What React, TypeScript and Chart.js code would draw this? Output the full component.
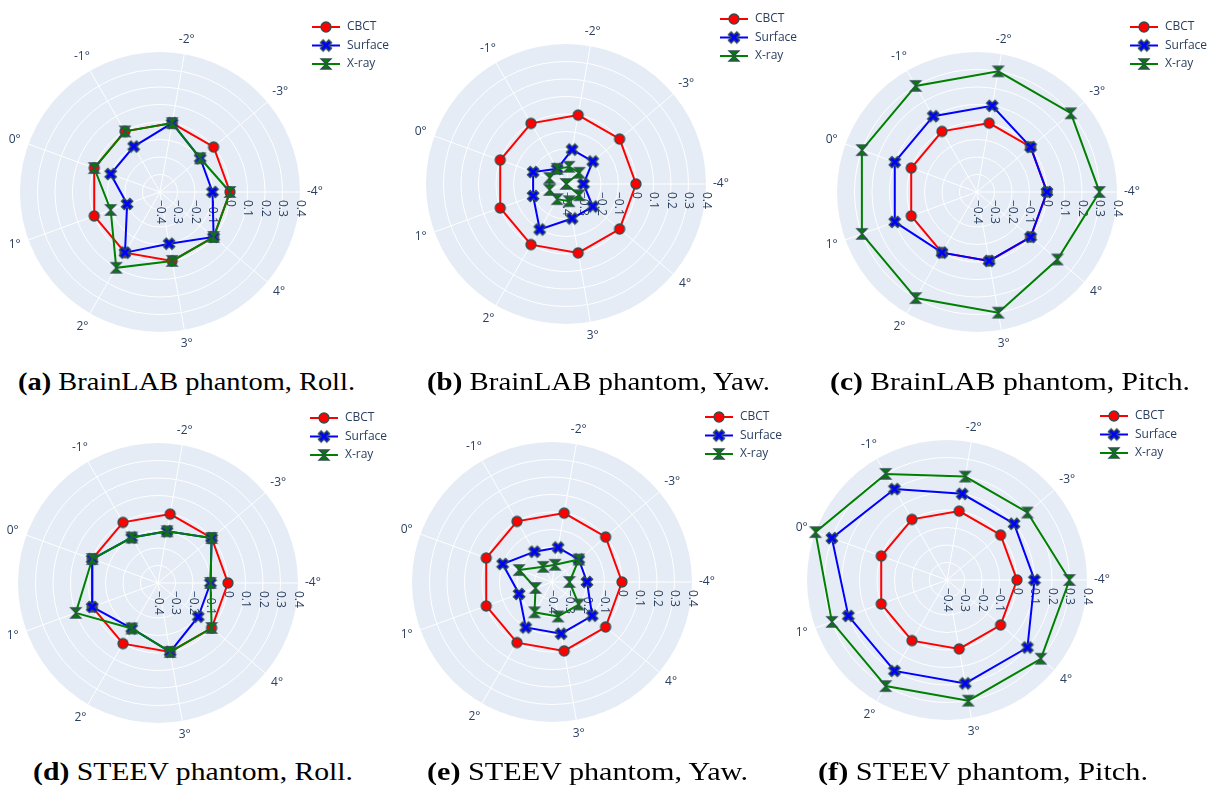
import React, { useEffect, useRef } from 'react';
import { Chart, registerables } from 'chart.js';

Chart.register(...registerables);

// ---------------- data ----------------
const categories = ['-4°', '-3°', '-2°', '-1°', '0°', '1°', '2°', '3°', '4°'];
const radialTicks = [-0.4, -0.3, -0.2, -0.1, 0, 0.1, 0.2, 0.3, 0.4];
const radialTickLabels = ['−0.4', '−0.3', '−0.2', '−0.1', '0', '0.1', '0.2', '0.3', '0.4'];
const seriesNames = ['CBCT', 'Surface', 'X-ray'];

// (a) BrainLAB phantom, Roll
const brainlabRollCBCT = [0, 0, 0, 0, 0, 0, 0, 0, 0];
const brainlabRollSurface = [-0.1, -0.1, 0, -0.1, -0.1, -0.2, 0, -0.1, 0];
const brainlabRollXray = [0, -0.1, 0, 0, 0, -0.1, 0.1, 0, 0];
// (b) BrainLAB phantom, Yaw
const brainlabYawCBCT = [0, 0, 0, 0, 0, 0, 0, 0, 0];
const brainlabYawSurface = [-0.3, -0.2, -0.2, -0.3, -0.2, -0.2, -0.1, -0.2, -0.2];
const brainlabYawXray = [-0.4, -0.3, -0.3, -0.3, -0.3, -0.3, -0.3, -0.3, -0.3];
// (c) BrainLAB phantom, Pitch
const brainlabPitchCBCT = [0, 0, 0, 0, 0, 0, 0, 0, 0];
const brainlabPitchSurface = [0, 0, 0.1, 0.1, 0.1, 0.1, 0, 0, 0];
const brainlabPitchXray = [0.3, 0.3, 0.3, 0.3, 0.3, 0.3, 0.3, 0.3, 0.2];
// (d) STEEV phantom, Roll
const steevRollCBCT = [0, 0, 0, 0, 0, 0, 0, 0, 0];
const steevRollSurface = [-0.1, 0, -0.1, -0.1, 0, 0, -0.1, 0, -0.1];
const steevRollXray = [-0.1, 0, -0.1, -0.1, 0, 0.1, -0.1, 0, 0];
// (e) STEEV phantom, Yaw
const steevYawCBCT = [0, 0, 0, 0, 0, 0, 0, 0, 0];
const steevYawSurface = [-0.2, -0.2, -0.2, -0.2, -0.1, -0.2, -0.1, -0.1, -0.1];
const steevYawXray = [-0.3, -0.2, -0.3, -0.3, -0.2, -0.3, -0.2, -0.2, -0.2];
// (f) STEEV phantom, Pitch
const steevPitchCBCT = [0, 0, 0, 0, 0, 0, 0, 0, 0];
const steevPitchSurface = [0.1, 0.1, 0.1, 0.2, 0.3, 0.2, 0.2, 0.2, 0.2];
const steevPitchXray = [0.3, 0.2, 0.2, 0.3, 0.4, 0.3, 0.3, 0.3, 0.3];

const captionTags = ['(a)', '(b)', '(c)', '(d)', '(e)', '(f)'];
const captionTexts = [
  'BrainLAB phantom, Roll.',
  'BrainLAB phantom, Yaw.',
  'BrainLAB phantom, Pitch.',
  'STEEV phantom, Roll.',
  'STEEV phantom, Yaw.',
  'STEEV phantom, Pitch.',
];

const panelSeries = [
  [brainlabRollCBCT, brainlabRollSurface, brainlabRollXray],
  [brainlabYawCBCT, brainlabYawSurface, brainlabYawXray],
  [brainlabPitchCBCT, brainlabPitchSurface, brainlabPitchXray],
  [steevRollCBCT, steevRollSurface, steevRollXray],
  [steevYawCBCT, steevYawSurface, steevYawXray],
  [steevPitchCBCT, steevPitchSurface, steevPitchXray],
];

// ---------------- layout / style ----------------
const seriesColors = ['#FF0000', '#0000FF', '#008000'];
const seriesMarkers = ['circle', 'x', 'hourglass'];
const textColor = '#2a3f5f';
const tickFont = '12px "Open Sans", sans-serif';

const panelLayouts = [
  { cx: 160, cy: 192, legendX: 312, legendY: 27, capLeft: 18, capRight: 355, capBaseline: 390 },
  { cx: 566, cy: 184, legendX: 720, legendY: 19, capLeft: 427, capRight: 770, capBaseline: 390 },
  { cx: 977, cy: 192, legendX: 1130, legendY: 27, capLeft: 830, capRight: 1190, capBaseline: 390 },
  { cx: 158, cy: 583, legendX: 310, legendY: 418, capLeft: 33, capRight: 353, capBaseline: 780 },
  { cx: 552, cy: 582, legendX: 705, legendY: 417, capLeft: 427, capRight: 748, capBaseline: 780 },
  { cx: 947, cy: 580, legendX: 1100, legendY: 416, capLeft: 818, capRight: 1148, capBaseline: 780 },
];

const RADIUS = 140;
const CW = 440;
const CH = 360;
const OFFX = 205;
const OFFY = 185;
const CAP_FONT = 25;

// clockwise from east (Chart.js goes clockwise; the reference goes counter-clockwise from east)
const clockwiseOrder = [0, 8, 7, 6, 5, 4, 3, 2, 1];

function makeMarker(kind: string, fill: string): HTMLCanvasElement {
  const c = document.createElement('canvas');
  c.width = 16;
  c.height = 16;
  const g = c.getContext('2d')!;
  g.translate(8, 8);
  g.beginPath();
  const r = 5;
  if (kind === 'circle') {
    g.arc(0, 0, r, 0, Math.PI * 2);
  } else if (kind === 'x') {
    const rx = (r * 0.8) / Math.SQRT2;
    const pts: [number, number][] = [];
    let x = 0;
    let y = rx;
    pts.push([x, y]);
    const steps: [number, number][] = [
      [rx, rx], [rx, -rx], [-rx, -rx], [rx, -rx], [-rx, -rx], [-rx, rx],
      [-rx, -rx], [-rx, rx], [rx, rx], [-rx, rx], [rx, rx],
    ];
    steps.forEach(([dx, dy]) => {
      x += dx;
      y += dy;
      pts.push([x, y]);
    });
    g.moveTo(pts[0][0], pts[0][1]);
    for (let i = 1; i < pts.length; i++) g.lineTo(pts[i][0], pts[i][1]);
    g.closePath();
  } else {
    g.moveTo(r, r);
    g.lineTo(-r, r);
    g.lineTo(r, -r);
    g.lineTo(-r, -r);
    g.closePath();
  }
  g.fillStyle = fill;
  g.fill();
  g.lineWidth = 1.3;
  g.strokeStyle = '#2F4F4F';
  g.lineJoin = 'miter';
  g.stroke();
  return c;
}

function makeDecorPlugin(legendX: number, legendY: number, markers: HTMLCanvasElement[]) {
  return {
    id: 'polarDecor',
    beforeDraw(chart: any) {
      const s = chart.scales.r;
      const ctx = chart.ctx;
      ctx.save();
      ctx.fillStyle = '#E5ECF6';
      ctx.beginPath();
      ctx.arc(s.xCenter, s.yCenter, s.drawingArea, 0, Math.PI * 2);
      ctx.fill();
      ctx.restore();
    },
    beforeDatasetsDraw(chart: any) {
      const s = chart.scales.r;
      const ctx = chart.ctx;
      ctx.save();
      ctx.font = tickFont;
      ctx.fillStyle = textColor;
      // radial tick labels, along the -4° (east) axis, rotated
      radialTicks.forEach((v, i) => {
        const d = s.getDistanceFromCenterForValue(v);
        ctx.save();
        ctx.translate(s.xCenter + d, s.yCenter + 8);
        ctx.rotate(Math.PI / 2);
        ctx.textAlign = 'left';
        ctx.textBaseline = 'middle';
        ctx.fillText(radialTickLabels[i], 0, 0);
        ctx.restore();
      });
      // angular labels
      const labels: string[] = chart.data.labels;
      labels.forEach((lab, i) => {
        const a = s.getIndexAngle(i) - Math.PI / 2;
        const w = ctx.measureText(lab).width;
        const h = 12;
        const ext = (Math.abs(Math.cos(a)) * w) / 2 + (Math.abs(Math.sin(a)) * h) / 2;
        const p = s.getPointPosition(i, s.drawingArea + 7 + ext);
        ctx.textAlign = 'center';
        ctx.textBaseline = 'middle';
        ctx.fillText(lab, p.x, p.y);
      });
      ctx.restore();
    },
    afterDraw(chart: any) {
      const ctx = chart.ctx;
      ctx.save();
      ctx.font = tickFont;
      seriesNames.forEach((name, k) => {
        const y = legendY + k * 18.5;
        ctx.strokeStyle = seriesColors[k];
        ctx.lineWidth = 2;
        ctx.beginPath();
        ctx.moveTo(legendX, y);
        ctx.lineTo(legendX + 28, y);
        ctx.stroke();
        const m = markers[k];
        ctx.drawImage(m, legendX + 14 - m.width / 2, y - m.height / 2);
        ctx.fillStyle = textColor;
        ctx.textAlign = 'left';
        ctx.textBaseline = 'middle';
        ctx.fillText(name, legendX + 35, y);
      });
      ctx.restore();
    },
  };
}

export default function App() {
  const canvasRefs = useRef<(HTMLCanvasElement | null)[]>([]);
  const capRefs = useRef<(HTMLDivElement | null)[]>([]);

  useEffect(() => {
    const markers = seriesMarkers.map((k, i) => makeMarker(k, seriesColors[i]));
    const labels = clockwiseOrder.map((i) => categories[i]);
    const charts: Chart[] = [];
    panelLayouts.forEach((p, idx) => {
      const canvas = canvasRefs.current[idx];
      if (!canvas) return;
      const left = p.cx - RADIUS - (p.cx - OFFX);
      const top = p.cy - RADIUS - (p.cy - OFFY);
      const padding = {
        left,
        top,
        right: CW - (left + 2 * RADIUS),
        bottom: CH - (top + 2 * RADIUS),
      };
      const lx = p.legendX - (p.cx - OFFX);
      const ly = p.legendY - (p.cy - OFFY);
      const datasets = panelSeries[idx].map((series, k) => ({
        label: seriesNames[k],
        data: clockwiseOrder.map((i) => series[i]),
        borderColor: seriesColors[k],
        backgroundColor: 'rgba(0,0,0,0)',
        borderWidth: 2,
        fill: false,
        tension: 0,
        pointStyle: markers[k] as any,
        pointRadius: 6,
        pointHoverRadius: 6,
        order: 3 - k,
        clip: false as any,
      }));
      const chart = new Chart(canvas, {
        type: 'radar',
        data: { labels, datasets },
        options: {
          responsive: false,
          animation: false,
          events: [],
          layout: { padding },
          plugins: { legend: { display: false }, tooltip: { enabled: false } },
          scales: {
            r: {
              min: -0.4,
              max: 0.4,
              startAngle: 90,
              beginAtZero: false,
              ticks: { display: false, stepSize: 0.1 },
              grid: {
                circular: true,
                lineWidth: 1,
                color: (c: any) =>
                  c.tick && Math.abs(c.tick.value - 0.4) < 1e-6 ? 'rgba(0,0,0,0)' : '#FFFFFF',
              },
              angleLines: { color: '#FFFFFF', lineWidth: 1 },
              pointLabels: { display: false },
            },
          },
        },
        plugins: [makeDecorPlugin(lx, ly, markers)],
      } as any);
      charts.push(chart);
    });

    capRefs.current.forEach((el, i) => {
      if (!el) return;
      el.style.transform = 'none';
      const w = el.getBoundingClientRect().width;
      const p = panelLayouts[i];
      const target = p.capRight - p.capLeft;
      if (w > 0) el.style.transform = `scaleX(${target / w})`;
    });

    return () => charts.forEach((c) => c.destroy());
  }, []);

  return (
    <div
      style={{
        position: 'fixed',
        left: 0,
        top: 0,
        width: 1207,
        height: 785,
        background: '#FFFFFF',
        overflow: 'hidden',
      }}
    >
      {panelLayouts.map((p, i) => (
        <canvas
          key={'c' + i}
          ref={(el) => {
            canvasRefs.current[i] = el;
          }}
          width={CW}
          height={CH}
          style={{
            position: 'absolute',
            left: p.cx - OFFX,
            top: p.cy - OFFY,
            width: CW,
            height: CH,
          }}
        />
      ))}
      {panelLayouts.map((p, i) => (
        <div
          key={'t' + i}
          ref={(el) => {
            capRefs.current[i] = el;
          }}
          style={{
            position: 'absolute',
            left: p.capLeft,
            top: p.capBaseline - 21,
            whiteSpace: 'nowrap',
            fontFamily: '"Liberation Serif", "Times New Roman", serif',
            fontSize: CAP_FONT,
            lineHeight: CAP_FONT + 'px',
            color: '#000000',
            transformOrigin: '0 0',
          }}
        >
          <b>{captionTags[i]}</b> {captionTexts[i]}
        </div>
      ))}
    </div>
  );
}
